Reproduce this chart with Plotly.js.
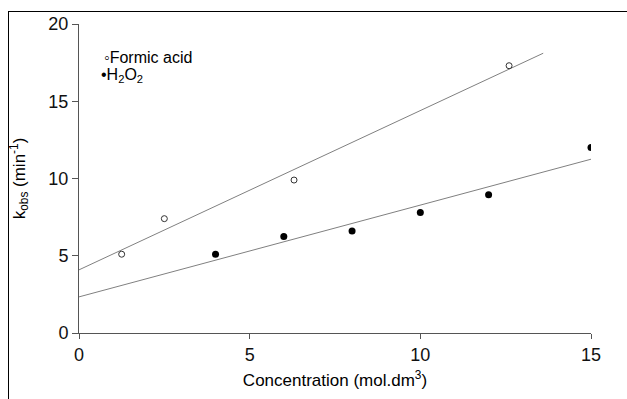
<!DOCTYPE html>
<html>
<head>
<meta charset="utf-8">
<script src="https://cdn.plot.ly/plotly-3.0.1.min.js"></script>
<style>
  html, body { margin: 0; padding: 0; background: #ffffff; }
  #frame { position: absolute; left: 8px; top: 11px; width: 619px; height: 388px;
           border-left: 1px solid #000; border-top: 1px solid #000; box-sizing: border-box; }
  #chart { position: absolute; left: 0; top: 0; width: 627px; height: 399px; }
</style>
</head>
<body>
<div id="frame"></div>
<div id="chart"></div>
<script>
// Formic acid (open circles)
const formicX = [1.25, 2.5, 6.3, 12.6];
const formicY = [5.1, 7.4, 9.9, 17.3];
const formicFitX = [0, 13.6];
// H2O2 (filled circles)
const h2o2X = [4, 6, 8, 10, 12, 15];
const h2o2Y = [5.1, 6.25, 6.6, 7.8, 8.95, 12.0];
const h2o2FitX = [0, 15];

const seriesNames = ['Formic acid', 'H<sub>2</sub>O<sub>2</sub>'];
const xTitle = 'Concentration (mol.dm<sup>3</sup>)';
const yTitle = 'k<sub>obs</sub> (min<sup>-1</sup>)';
const xTicks = [0, 5, 10, 15];
const yTicks = [0, 5, 10, 15, 20];

function linFit(xs, ys) {
  const n = xs.length;
  const mx = xs.reduce((a, b) => a + b, 0) / n;
  const my = ys.reduce((a, b) => a + b, 0) / n;
  let sxy = 0, sxx = 0;
  for (let i = 0; i < n; i++) { sxy += (xs[i] - mx) * (ys[i] - my); sxx += (xs[i] - mx) ** 2; }
  const m = sxy / sxx;
  return { m: m, b: my - m * mx };
}
const fF = linFit(formicX, formicY);
const fH = linFit(h2o2X, h2o2Y);

const FONT = 'Liberation Sans, Arial, sans-serif';
const traces = [
  { x: formicFitX, y: formicFitX.map(x => fF.b + fF.m * x), mode: 'lines',
    line: { color: '#808080', width: 1 }, hoverinfo: 'skip', showlegend: false },
  { x: h2o2FitX, y: h2o2FitX.map(x => fH.b + fH.m * x), mode: 'lines',
    line: { color: '#808080', width: 1 }, hoverinfo: 'skip', showlegend: false },
  { x: formicX, y: formicY, mode: 'markers', name: seriesNames[0],
    marker: { symbol: 'circle-open', size: 6, color: '#333', line: { width: 1, color: '#333' } } },
  { x: h2o2X, y: h2o2Y, mode: 'markers', name: seriesNames[1],
    marker: { symbol: 'circle', size: 7, color: '#000' } }
];

const layout = {
  width: 627, height: 399,
  margin: { l: 79, r: 36, t: 24, b: 66 },
  paper_bgcolor: 'rgba(0,0,0,0)', plot_bgcolor: 'rgba(0,0,0,0)',
  showlegend: false,
  font: { family: FONT, color: '#000' },
  xaxis: {
    range: [0, 15], tickvals: xTicks, ticktext: xTicks.map(String),
    showgrid: false, zeroline: false, showline: true, linecolor: '#555', linewidth: 1,
    ticks: 'outside', ticklen: 5, tickcolor: '#555', tickfont: { size: 18, family: FONT, color: '#111' },
    title: { text: xTitle, font: { size: 17, family: FONT }, standoff: 10 }
  },
  yaxis: {
    range: [0, 20], tickvals: yTicks, ticktext: yTicks.map(String),
    showgrid: false, zeroline: false, showline: true, linecolor: '#555', linewidth: 1,
    ticks: 'outside', ticklen: 6, tickcolor: '#555', tickfont: { size: 18, family: FONT, color: '#111' },
    title: { text: yTitle, font: { size: 17, family: FONT }, standoff: 18 }
  },
  annotations: [
    { xref: 'paper', yref: 'paper', x: 0.045, y: 0.893, xanchor: 'left', yanchor: 'middle',
      text: '◦' + seriesNames[0], showarrow: false,
      font: { size: 16, family: FONT, color: '#000' } },
    { xref: 'paper', yref: 'paper', x: 0.040, y: 0.834, xanchor: 'left', yanchor: 'middle',
      text: '•' + seriesNames[1], showarrow: false,
      font: { size: 16, family: FONT, color: '#000' } }
  ]
};

Plotly.newPlot('chart', traces, layout, { displayModeBar: false, staticPlot: true });
</script>
</body>
</html>
